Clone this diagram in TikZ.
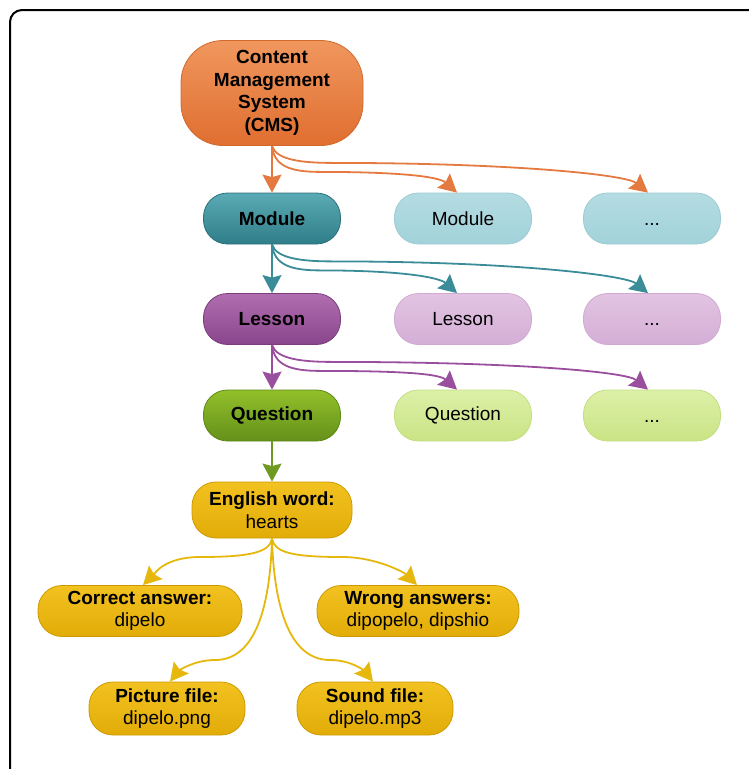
\documentclass[tikz,border=0pt]{standalone}
\usepackage{fontspec}
\setmainfont{Liberation Sans}
\usetikzlibrary{arrows.meta}

\definecolor{cmsc}{HTML}{E47A40}
\definecolor{modc}{HTML}{3A8C98}
\definecolor{lesc}{HTML}{9A4E9E}
\definecolor{quec}{HTML}{6E9A22}
\definecolor{goldc}{HTML}{E6B80E}

\tikzset{
box/.style={rounded corners=24pt,minimum width=137pt,minimum height=51pt,line width=.8pt,align=center,inner sep=2pt},
bold/.style={font=\fontsize{19}{22.5}\selectfont\bfseries},
more/.style={text height=13.6pt,text depth=0pt},
cmsbox/.style={box,bold,draw={rgb,255:red,208;green,105;blue,46},top color={rgb,255:red,240;green,151;blue,94},bottom color={rgb,255:red,224;green,110;blue,48}},
moddark/.style={box,bold,draw={rgb,255:red,44;green,112;blue,122},top color={rgb,255:red,90;green,171;blue,181},bottom color={rgb,255:red,47;green,125;blue,136}},
modlight/.style={box,draw={rgb,255:red,158;green,203;blue,210},top color={rgb,255:red,180;green,220;blue,226},bottom color={rgb,255:red,162;green,210;blue,218}},
lesdark/.style={box,bold,draw={rgb,255:red,122;green,60;blue,124},top color={rgb,255:red,176;green,110;blue,176},bottom color={rgb,255:red,138;green,70;blue,140}},
leslight/.style={box,draw={rgb,255:red,208;green,170;blue,210},top color={rgb,255:red,226;green,196;blue,226},bottom color={rgb,255:red,212;green,174;blue,214}},
quedark/.style={box,bold,draw={rgb,255:red,94;green,136;blue,24},top color={rgb,255:red,146;green,192;blue,42},bottom color={rgb,255:red,100;green,144;blue,26}},
quelight/.style={box,draw={rgb,255:red,196;green,222;blue,130},top color={rgb,255:red,220;green,240;blue,168},bottom color={rgb,255:red,202;green,228;blue,132}},
goldbox/.style={box,draw={rgb,255:red,204;green,154;blue,0},top color={rgb,255:red,242;green,194;blue,32},bottom color={rgb,255:red,226;green,172;blue,8}},
arr/.style={-{Stealth[length=18pt,width=19pt,inset=2.5pt]},line width=1.8pt},
}
\tikzstyle{every node}=[font=\fontsize{19}{22.5}\selectfont]

\begin{document}
\begin{tikzpicture}[x=1pt,y=1pt]
    \useasboundingbox (0,0) rectangle (748,-769);
    \draw[line width=2pt,rounded corners=12pt] (10,-10) rectangle (790,-800);

    % hierarchy
    \node[cmsbox,minimum width=182pt,minimum height=105pt,rounded corners=42pt] (cms) at (272,-93) {Content\\Management\\System\\(CMS)};
    \node[moddark] (module) at (272,-218.5) {Module};
    \node[modlight] (module-b) at (463,-218.5) {Module};
    \node[modlight,more] (module-c) at (652,-218.5) {...};
    \node[lesdark] (lesson) at (272,-319) {Lesson};
    \node[leslight] (lesson-b) at (463,-319) {Lesson};
    \node[leslight,more] (lesson-c) at (652,-319) {...};
    \node[quedark] (question) at (272,-415.5) {Question};
    \node[quelight] (question-b) at (463,-415.5) {Question};
    \node[quelight,more] (question-c) at (652,-415.5) {...};

    \foreach \src/\dst/\col in {cms/module/cmsc, module/lesson/modc, lesson/question/lesc} {
        \draw[arr,\col] (\src.south) -- (\dst.north);
        \draw[arr,\col] (\src.south) .. controls +(2,-20) and +(-30,0) .. ++(48,-26)
            .. controls +(80,0) and +(-18,16) .. ([xshift=-6pt]\dst-b.north);
        \draw[arr,\col] (\src.south) .. controls +(4,-14) and +(-30,0) .. ++(60,-17)
            .. controls +(180,0) and +(-22,18) .. ([xshift=-4pt]\dst-c.north);
    }

    % question details
    \node[goldbox,minimum width=160pt,minimum height=56pt] (english) at (272,-510) {\textbf{English word:}\\hearts};
    \node[goldbox,minimum width=204pt] (correct) at (140,-611) {\textbf{Correct answer:}\\dipelo};
    \node[goldbox,minimum width=202pt] (wrong) at (418,-611) {\textbf{Wrong answers:}\\dipopelo, dipshio};
    \node[goldbox,minimum width=156pt,minimum height=53pt] (picture) at (167,-708.5) {\textbf{Picture file:}\\dipelo.png};
    \node[goldbox,minimum width=156pt,minimum height=53pt] (sound) at (375,-708.5) {\textbf{Sound file:}\\dipelo.mp3};

    \draw[arr,quec] (question.south) -- (english.north);
    \draw[arr,goldc] (english.south) .. controls +(-2,-14) and +(50,0) .. (200,-557)
        .. controls +(-35,0) and +(12,12) .. ([xshift=3pt]correct.north);
    \draw[arr,goldc] (english.south) .. controls +(2,-14) and +(-50,0) .. (342,-557)
        .. controls +(35,0) and +(-12,12) .. ([xshift=-1pt]wrong.north);
    \draw[arr,goldc] (english.south) .. controls +(-2,-70) and +(40,0) .. (215,-660)
        .. controls +(-22,0) and +(8,10) .. ([xshift=3pt]picture.north);
    \draw[arr,goldc] (english.south) .. controls +(2,-70) and +(-40,0) .. (330,-660)
        .. controls +(22,0) and +(-8,10) .. ([xshift=-2pt]sound.north);
\end{tikzpicture}
\end{document}
